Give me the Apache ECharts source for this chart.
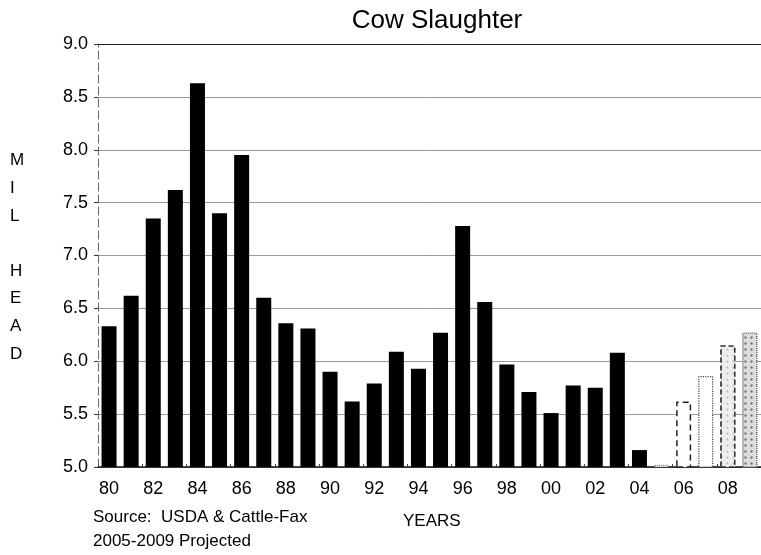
<!DOCTYPE html>
<html>
<head>
<meta charset="utf-8">
<script src="https://cdn.jsdelivr.net/npm/echarts@6/dist/echarts.min.js"></script>
<style>
  html, body { margin: 0; padding: 0; background: #fff; }
  #chart { width: 761px; height: 555px; }
</style>
</head>
<body>
<div id="chart"></div>
<script>
// Cow slaughter, million head, 1980-2009 (2005-2009 projected)
const years = ['80','81','82','83','84','85','86','87','88','89',
               '90','91','92','93','94','95','96','97','98','99',
               '00','01','02','03','04','05','06','07','08','09'];
const actual = [6.33, 6.62, 7.35, 7.62, 8.63, 7.40, 7.95, 6.60, 6.36, 6.31,
                5.90, 5.62, 5.79, 6.09, 5.93, 6.27, 7.28, 6.56, 5.97, 5.71,
                5.51, 5.77, 5.75, 6.08, 5.16];
const projected = [5.02, 5.62, 5.86, 6.15, 6.27];
const yTicks = [5.0, 5.5, 6.0, 6.5, 7.0, 7.5, 8.0, 8.5, 9.0];

const FONT = '"Liberation Sans", Arial, sans-serif';

// actual years fill the first slots, projected years the last ones
const actualData = years.map((y, i) => i < actual.length ? actual[i] : '-');
const projStyles = [
  { color: '#ffffff', borderColor: '#555', borderWidth: 1, borderType: 'dotted' },
  { color: '#ffffff', borderColor: '#222', borderWidth: 1.5, borderType: [6, 4] },
  { color: '#ffffff', borderColor: '#444', borderWidth: 1.2, borderType: 'dotted' },
  { color: '#eeeeee', borderColor: '#333', borderWidth: 1.2, borderType: [5, 3],
    decal: { symbol: 'circle', symbolSize: 0.6, color: 'rgba(0,0,0,0.25)', dashArrayX: 3, dashArrayY: 3 } },
  { color: '#dddddd', borderColor: '#777', borderWidth: 1, borderType: 'dotted',
    decal: { symbol: 'circle', symbolSize: 0.8, color: 'rgba(0,0,0,0.45)', dashArrayX: 3, dashArrayY: 3 } }
];
const projData = years.map((y, i) => {
  const k = i - actual.length;
  if (k < 0) return '-';
  return { value: projected[k], itemStyle: projStyles[k] };
});

const chart = echarts.init(document.getElementById('chart'), null, { renderer: 'canvas' });
chart.setOption({
  animation: false,
  backgroundColor: '#ffffff',
  title: {
    text: 'Cow Slaughter',
    left: 432, top: 3, textAlign: 'center',
    textStyle: { fontFamily: FONT, fontSize: 26, fontWeight: 'normal', color: '#000' }
  },
  grid: { left: 98, top: 44, width: 671, height: 423, containLabel: false },
  xAxis: [{
    type: 'category',
    data: years,
    axisLine: { lineStyle: { color: '#111', width: 1.5 } },
    axisTick: { show: true, alignWithLabel: false, inside: true, length: 3, lineStyle: { color: '#444' } },
    axisLabel: { interval: 1, margin: 13, fontFamily: FONT, fontSize: 18, color: '#000' }
  }, {
    type: 'category',
    position: 'top',
    data: years,
    axisLine: { lineStyle: { color: '#222', width: 1 } },
    axisTick: { show: false },
    axisLabel: { show: false }
  }],
  yAxis: {
    type: 'value',
    min: 5, max: 9, interval: 0.5,
    axisLine: { show: true, lineStyle: { color: '#666', type: [8, 4] } },
    axisTick: { show: true, length: 4, lineStyle: { color: '#333' } },
    axisLabel: {
      margin: 10, fontFamily: FONT, fontSize: 18, color: '#000',
      formatter: v => yTicks.includes(v) ? v.toFixed(1) : ''
    },
    splitLine: { show: true, lineStyle: { color: '#999', width: 1 } }
  },
  series: [{
    name: 'Actual',
    type: 'bar',
    data: actualData,
    barWidth: 15,
    barGap: '-100%',
    itemStyle: { color: '#000' }
  }, {
    name: 'Projected',
    type: 'bar',
    data: projData,
    barWidth: 15,
    barGap: '-100%'
  }],
  graphic: [{
    type: 'text',
    left: 10, top: 147,
    style: {
      text: 'M\nI\nL\n\nH\nE\nA\nD',
      fontFamily: FONT, fontSize: 17, lineHeight: 27.6,
      fill: '#000', align: 'center', width: 14
    }
  }, {
    type: 'text',
    left: 403, top: 513,
    style: { text: 'YEARS', fontFamily: FONT, fontSize: 17, fill: '#000' }
  }, {
    type: 'text',
    left: 93, top: 509,
    style: { text: 'Source:  USDA & Cattle-Fax', fontFamily: FONT, fontSize: 17, fill: '#000' }
  }, {
    type: 'text',
    left: 93, top: 533,
    style: { text: '2005-2009 Projected', fontFamily: FONT, fontSize: 17, fill: '#000' }
  }]
});
</script>
</body>
</html>
